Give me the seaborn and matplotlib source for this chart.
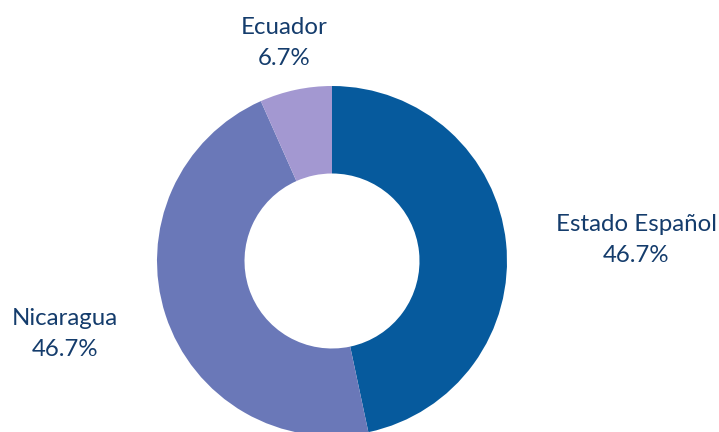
import numpy as np
import matplotlib
matplotlib.use('Agg')
import matplotlib.pyplot as plt
import seaborn as sns

# data
countries = ['Estado Español', 'Nicaragua', 'Ecuador']
counts = [7, 7, 1]
colors = ['#065a9d', '#6a78b8', '#a398d1']

sns.set_theme(style='white')
plt.rcParams['font.family'] = ['Lato', 'DejaVu Sans']

W, H = 719, 432
R = 175.0  # outer radius in px
cx, cy = 332, 261

fig = plt.figure(figsize=(W / 100, H / 100), dpi=100)
ax = fig.add_axes([0, 0, 1, 1])

ax.pie(counts, colors=colors, startangle=90, counterclock=False, radius=1,
       wedgeprops=dict(width=0.5, linewidth=0))

ax.set_xlim(-cx / R, (W - cx) / R)
ax.set_ylim(-(H - cy) / R, cy / R)
ax.set_aspect('equal')
ax.axis('off')

total = sum(counts)
pcts = [f'{100 * c / total:.1f}%' for c in counts]

# label positions (px, centre of block)
label_pos = [(636, 240), (65, 334), (284, 43)]
for name, pct, (px, py) in zip(countries, pcts, label_pos):
    ax.text((px - cx) / R, (cy - py) / R, f'{name}\n{pct}', ha='center', va='center',
            fontsize=17.3, color='#143c6c', linespacing=1.62)

fig.savefig('out.png', dpi=100)
